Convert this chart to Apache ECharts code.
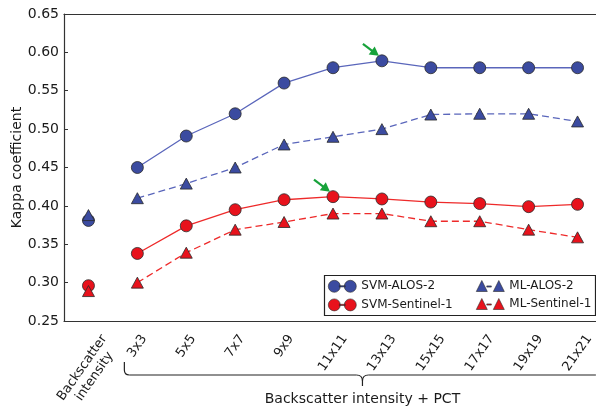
<!DOCTYPE html>
<html>
<head>
<meta charset="utf-8">
<script src="https://cdn.jsdelivr.net/npm/echarts@6/dist/echarts.min.js"></script>
<style>
  html, body { margin: 0; padding: 0; background: #fff; }
  #chart { width: 596px; height: 407px; }
</style>
</head>
<body>
<div id="chart"></div>
<script>
// Window sizes along the x axis (first one is plain backscatter)
const categories = ['Backscatter\nintensity', '3x3', '5x5', '7x7', '9x9', '11x11', '13x13', '15x15', '17x17', '19x19', '21x21'];

// Kappa coefficient per classifier / sensor
const svmAlos2     = [0.381, 0.450, 0.491, 0.520, 0.560, 0.580, 0.589, 0.580, 0.580, 0.580, 0.580];
const mlAlos2      = [0.388, 0.410, 0.429, 0.450, 0.480, 0.490, 0.500, 0.519, 0.520, 0.520, 0.510];
const svmSentinel1 = [0.296, 0.338, 0.374, 0.395, 0.408, 0.412, 0.409, 0.405, 0.403, 0.399, 0.402];
const mlSentinel1  = [0.289, 0.300, 0.339, 0.369, 0.379, 0.390, 0.390, 0.380, 0.380, 0.369, 0.359];

// y axis range and tick step
const yMin = 0.25, yMax = 0.65, yStep = 0.05;

// best result of each SVM curve, marked with an arrow: [series, category index]
const bestPoints = [[svmAlos2, 6], [svmSentinel1, 5]];

const FONT = 'DejaVu Sans';
const TEXT = '#1a1a1a';
const AXIS = '#333';
const BLUE = '#3b4ba0', BLUE_LINE = '#5a66bb';
const RED = '#e8121c', RED_LINE = '#ee2a2a';
const GREEN = '#17a23a';

// Rotated tick labels: centred on their tick, with the top of the
// rotated box a fixed distance below the axis line.
const LABEL_ANGLE = 55, LABEL_SIZE = 13, LABEL_LH = 15, LABEL_TOP = 11, LABEL_MARGIN = 2;
const measureCtx = document.createElement('canvas').getContext('2d');
measureCtx.font = LABEL_SIZE + 'px "' + FONT + '"';
const rad = LABEL_ANGLE * Math.PI / 180;
const xLabelData = categories.map(function (c) {
  const lines = c.split('\n');
  const w = Math.max.apply(null, lines.map(function (l) { return measureCtx.measureText(l).width; }));
  const h = lines.length * LABEL_LH;
  const boxH = w * Math.sin(rad) + h * Math.cos(rad);
  const dy = LABEL_TOP + boxH / 2 - LABEL_MARGIN;
  // offset of the text centre from the anchor, in the rotated frame
  const along = -dy * Math.sin(rad);
  const across = dy * Math.cos(rad);
  return {
    value: c,
    textStyle: {
      align: 'center',
      verticalAlign: 'top',
      padding: [Math.max(0, across - h / 2), -2 * along, 0, 0]
    }
  };
});

const lineData = function (vals) { return vals.map(function (v, i) { return i === 0 ? '-' : v; }); };
const firstPoint = function (vals) { return [[0, vals[0]]]; };

const circleIcon = 'path://M0,6A6,6,0,1,1,12,6A6,6,0,1,1,0,6Z M16,6A6,6,0,1,1,28,6A6,6,0,1,1,16,6Z M11,5.4L17,5.4L17,6.6L11,6.6Z';
const triIcon = 'path://M0,12L5.5,1L11,12Z M17,12L22.5,1L28,12Z M10.5,6.4L15,6.4L15,7.6L10.5,7.6Z';

const markerStyle = function (c) { return { color: c, borderColor: '#2a2a2a', borderWidth: 0.8, opacity: 1 }; };

const chart = echarts.init(document.getElementById('chart'), null, { renderer: 'canvas' });

const legendBase = {
  orient: 'vertical',
  top: 280,
  padding: 0,
  itemWidth: 28,
  itemHeight: 12,
  itemGap: 6,
  selectedMode: false,
  textStyle: { fontFamily: FONT, fontSize: 12, color: TEXT },
  itemStyle: { borderWidth: 0.6, borderColor: '#2a2a2a' }
};

chart.setOption({
  animation: false,
  backgroundColor: '#fff',
  grid: { left: 64, top: 14, width: 538, height: 307, outerBoundsMode: 'none', containLabel: false },
  xAxis: [{
    type: 'category',
    data: xLabelData,
    boundaryGap: true,
    axisLine: { lineStyle: { color: AXIS, width: 1.2 } },
    axisTick: { inside: true, alignWithLabel: true, length: 4, lineStyle: { color: AXIS } },
    axisLabel: {
      interval: 0, rotate: LABEL_ANGLE, margin: LABEL_MARGIN,
      fontFamily: FONT, fontSize: LABEL_SIZE, lineHeight: LABEL_LH, color: TEXT
    },
    splitLine: { show: false }
  }, {
    type: 'category',
    position: 'top',
    data: categories,
    boundaryGap: true,
    axisLine: { lineStyle: { color: AXIS, width: 1.2 } },
    axisTick: { inside: true, alignWithLabel: true, length: 4, lineStyle: { color: AXIS } },
    axisLabel: { show: false },
    splitLine: { show: false }
  }],
  yAxis: {
    type: 'value',
    min: yMin, max: yMax, interval: yStep,
    name: 'Kappa coefficient',
    nameLocation: 'middle',
    nameGap: 40,
    nameMoveOverlap: false,
    nameTextStyle: { fontFamily: FONT, fontSize: 14, color: TEXT },
    axisLine: { show: true, lineStyle: { color: AXIS, width: 1.2 } },
    axisTick: { show: true, inside: true, length: 4, lineStyle: { color: AXIS } },
    axisLabel: {
      margin: 5, fontFamily: FONT, fontSize: 14, color: TEXT,
      formatter: function (v) { return v.toFixed(2); }
    },
    splitLine: { show: false }
  },
  legend: [
    Object.assign({}, legendBase, {
      left: 328,
      data: [{ name: 'SVM-ALOS-2', icon: circleIcon }, { name: 'SVM-Sentinel-1', icon: circleIcon }]
    }),
    Object.assign({}, legendBase, {
      left: 476,
      data: [{ name: 'ML-ALOS-2', icon: triIcon }, { name: 'ML-Sentinel-1', icon: triIcon }]
    })
  ],
  series: [
    {
      name: 'SVM-ALOS-2', type: 'line', data: lineData(svmAlos2),
      symbol: 'circle', symbolSize: 12, itemStyle: markerStyle(BLUE),
      lineStyle: { color: BLUE_LINE, width: 1.3 }
    },
    {
      name: 'ML-ALOS-2', type: 'line', data: lineData(mlAlos2),
      symbol: 'triangle', symbolSize: [12, 11], itemStyle: markerStyle(BLUE),
      lineStyle: { color: BLUE_LINE, width: 1.3, type: [7, 4] }
    },
    {
      name: 'SVM-Sentinel-1', type: 'line', data: lineData(svmSentinel1),
      symbol: 'circle', symbolSize: 12, itemStyle: markerStyle(RED),
      lineStyle: { color: RED_LINE, width: 1.3 }
    },
    {
      name: 'ML-Sentinel-1', type: 'line', data: lineData(mlSentinel1),
      symbol: 'triangle', symbolSize: [12, 11], itemStyle: markerStyle(RED),
      lineStyle: { color: RED_LINE, width: 1.3, type: [7, 4] }
    },
    {
      name: 'SVM-ALOS-2', type: 'scatter', data: firstPoint(svmAlos2),
      symbol: 'circle', symbolSize: 12, itemStyle: markerStyle(BLUE), z: 3
    },
    {
      name: 'ML-ALOS-2', type: 'scatter', data: firstPoint(mlAlos2),
      symbol: 'triangle', symbolSize: [12, 11], itemStyle: markerStyle(BLUE), z: 3
    },
    {
      name: 'SVM-Sentinel-1', type: 'scatter', data: firstPoint(svmSentinel1),
      symbol: 'circle', symbolSize: 12, itemStyle: markerStyle(RED), z: 3
    },
    {
      name: 'ML-Sentinel-1', type: 'scatter', data: firstPoint(mlSentinel1),
      symbol: 'triangle', symbolSize: [12, 11], itemStyle: markerStyle(RED), z: 3
    }
  ]
});

// Overlay: legend frame, best-point arrows and the PCT brace
const toPx = function (i, v) { return chart.convertToPixel({ xAxisIndex: 0, yAxisIndex: 0 }, [i, v]); };
const graphics = [];

graphics.push({
  type: 'rect', z: -1, zlevel: 0,
  shape: { x: 324.5, y: 275.5, width: 271, height: 40 },
  style: { fill: '#fff', stroke: '#222', lineWidth: 1.2 }
});

bestPoints.forEach(function (bp) {
  const p = toPx(bp[1], bp[0][bp[1]]);
  const tip = [p[0] - 3, p[1] - 5];
  const tail = [p[0] - 19, p[1] - 17];
  const dx = tip[0] - tail[0], dy = tip[1] - tail[1];
  const len = Math.sqrt(dx * dx + dy * dy);
  const ux = dx / len, uy = dy / len;
  const headLen = 9, headHalf = 5;
  const base = [tip[0] - ux * headLen, tip[1] - uy * headLen];
  graphics.push({
    type: 'line', z: 100,
    shape: { x1: tail[0], y1: tail[1], x2: base[0] + ux, y2: base[1] + uy },
    style: { stroke: GREEN, lineWidth: 2.2 }
  });
  graphics.push({
    type: 'polygon', z: 100,
    shape: { points: [tip, [base[0] - uy * headHalf, base[1] + ux * headHalf], [base[0] + uy * headHalf, base[1] - ux * headHalf]] },
    style: { fill: GREEN }
  });
});

// brace spanning the PCT windows (3x3 ... 21x21)
const first = toPx(1, yMin), last = toPx(categories.length - 1, yMin);
const bL = first[0] - 13, bR = last[0] + 23, bM = (bL + bR) / 2;
const bTop = 362, bY = 375, bTip = 386;
const braceStyle = { stroke: '#222', lineWidth: 1.2, fill: null };
graphics.push({ type: 'polyline', shape: { points: [[bL, bTop], [bL, bY - 5]] }, style: braceStyle });
graphics.push({ type: 'bezierCurve', shape: { x1: bL, y1: bY - 5, cpx1: bL, cpy1: bY, x2: bL + 5, y2: bY }, style: braceStyle });
graphics.push({ type: 'polyline', shape: { points: [[bL + 5, bY], [bM - 6, bY]] }, style: braceStyle });
graphics.push({ type: 'bezierCurve', shape: { x1: bM - 6, y1: bY, cpx1: bM, cpy1: bY, x2: bM, y2: bY + 6 }, style: braceStyle });
graphics.push({ type: 'bezierCurve', shape: { x1: bM + 6, y1: bY, cpx1: bM, cpy1: bY, x2: bM, y2: bY + 6 }, style: braceStyle });
graphics.push({ type: 'polyline', shape: { points: [[bM, bY + 6], [bM, bTip]] }, style: braceStyle });
graphics.push({ type: 'polyline', shape: { points: [[bM + 6, bY], [bR - 5, bY]] }, style: braceStyle });
graphics.push({ type: 'bezierCurve', shape: { x1: bR - 5, y1: bY, cpx1: bR, cpy1: bY, x2: bR, y2: bY - 5 }, style: braceStyle });
graphics.push({ type: 'polyline', shape: { points: [[bR, bY - 5], [bR, bTop]] }, style: braceStyle });
graphics.push({
  type: 'text', x: bM, y: 399,
  style: { text: 'Backscatter intensity + PCT', fontFamily: FONT, fontSize: 14, fill: TEXT, textAlign: 'center', textVerticalAlign: 'middle' }
});

chart.setOption({ graphic: graphics });
</script>
</body>
</html>
